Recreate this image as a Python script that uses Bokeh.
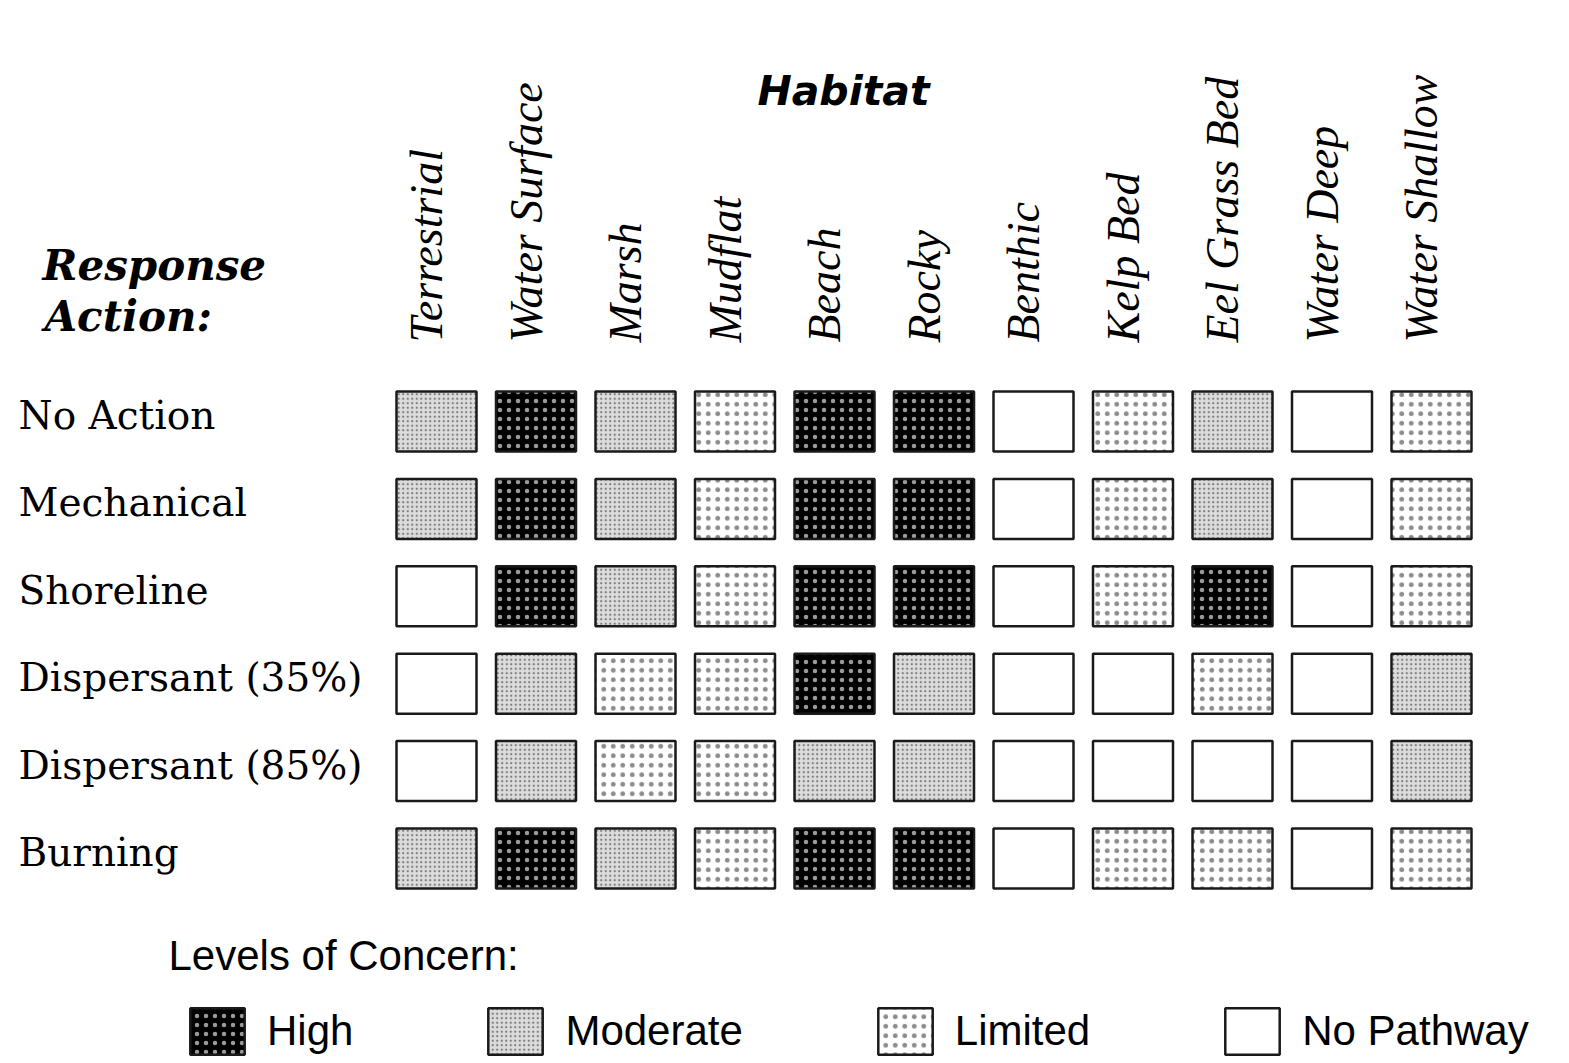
import math
from bokeh.plotting import figure
from bokeh.models import Range1d, ColumnDataSource, Legend, LegendItem
from bokeh.core.properties import value
from bokeh.embed import file_html
from bokeh.resources import INLINE

# ---------------- data ----------------
habitats = ["Terrestrial", "Water Surface", "Marsh", "Mudflat", "Beach", "Rocky",
            "Benthic", "Kelp Bed", "Eel Grass Bed", "Water Deep", "Water  Shallow"]
actions = ["No Action", "Mechanical", "Shoreline", "Dispersant (35%)",
           "Dispersant (85%)", "Burning"]
levels = ["High", "Moderate", "Limited", "No Pathway"]

# level of concern per action (H = High, M = Moderate, L = Limited, N = No Pathway)
no_action   = ["M", "H", "M", "L", "H", "H", "N", "L", "M", "N", "L"]
mechanical  = ["M", "H", "M", "L", "H", "H", "N", "L", "M", "N", "L"]
shoreline   = ["N", "H", "M", "L", "H", "H", "N", "L", "H", "N", "L"]
disp_35     = ["N", "M", "L", "L", "H", "M", "N", "N", "L", "N", "M"]
disp_85     = ["N", "M", "L", "L", "M", "M", "N", "N", "N", "N", "M"]
burning     = ["M", "H", "M", "L", "H", "H", "N", "L", "L", "N", "L"]
matrix = [no_action, mechanical, shoreline, disp_35, disp_85, burning]
code_to_level = {"H": "High", "M": "Moderate", "L": "Limited", "N": "No Pathway"}

# ---------------- layout ----------------
W, H = 1560, 1058
ORIGIN = 0
COL0, CSTEP = 436.0, 99.5
ROW0, RSTEP = 421.0, 87.4


def dx(px):
    return (px - COL0) / CSTEP


def dy(py):
    return (py - ROW0) / RSTEP


p = figure(width=W, height=H,
           x_range=Range1d(dx(ORIGIN), dx(ORIGIN + W)),
           y_range=Range1d(dy(ORIGIN + H), dy(ORIGIN)),
           x_axis_type=None, y_axis_type=None,
           output_backend="svg", toolbar_location=None,
           min_border=0, outline_line_color=None,
           background_fill_color="white", border_fill_color="white")
p.grid.visible = False

styles = {
    "High":       dict(fill_color="#000000", hatch_pattern="dot", hatch_color="#9a9a9a",
                       hatch_scale=9, hatch_weight=3),
    "Moderate":   dict(fill_color="#dcdcdc", hatch_pattern="dot", hatch_color="#7a7a7a",
                       hatch_scale=4.5, hatch_weight=2),
    "Limited":    dict(fill_color="#ffffff", hatch_pattern="dot", hatch_color="#8a8a8a",
                       hatch_scale=9.5, hatch_weight=2.5),
    "No Pathway": dict(fill_color="#ffffff"),
}

renderers = {}
for lvl in levels:
    xs, ys, hab, act = [], [], [], []
    for j, row in enumerate(matrix):
        for i, code in enumerate(row):
            if code_to_level[code] == lvl:
                xs.append(i)
                ys.append(j)
                hab.append(habitats[i])
                act.append(actions[j])
    src = ColumnDataSource(dict(x=xs, y=ys, habitat=hab, action=act))
    renderers[lvl] = p.rect(x="x", y="y", width=80, height=60,
                            width_units="screen", height_units="screen",
                            source=src, line_color="#1a1a1a", line_width=2.5,
                            **styles[lvl])

# column headers (rotated)
p.text(x=list(range(len(habitats))), y=[dy(342)] * len(habitats), text=habitats,
       angle=math.pi / 2, text_align="left", text_baseline="middle",
       x_offset=-10, text_font=value("Liberation Serif"), text_font_style="italic",
       text_font_size="46px", text_color="#000000")

# title "Habitat"
p.text(x=[dx(843)], y=[dy(90)], text=["Habitat"], text_align="center",
       text_baseline="middle", text_font=value("DejaVu Sans"),
       text_font_style="bold italic", text_font_size="41px", text_color="#000000")

# "Response Action:"
p.text(x=[dx(42), dx(44)], y=[dy(265), dy(316)], text=["Response", "Action:"],
       text_align="left", text_baseline="middle", text_font=value("DejaVu Serif"),
       text_font_style="bold italic", text_font_size="42px", text_color="#000000")

# row labels
p.text(x=[dx(18)] * len(actions), y=list(range(len(actions))), text=actions,
       text_align="left", text_baseline="middle", y_offset=-6,
       text_font=value("DejaVu Serif"), text_font_size="39px", text_color="#000000")

# legend title
p.text(x=[dx(168)], y=[dy(955)], text=["Levels of Concern:"], text_align="left",
       text_baseline="middle", text_font=value("Liberation Sans"),
       text_font_size="42px", text_color="#000000")

legend = Legend(items=[LegendItem(label=lvl, renderers=[renderers[lvl]]) for lvl in levels],
                orientation="horizontal", location=(183, -2),
                glyph_width=68, glyph_height=58, label_height=58,
                label_standoff=16, spacing=128, padding=0, margin=0,
                label_text_font="Liberation Sans", label_text_font_size="42px",
                label_text_color="#000000", label_text_baseline="middle",
                border_line_alpha=0, background_fill_alpha=0)
p.add_layout(legend)

open("out.html", "w").write(file_html(p, INLINE))
